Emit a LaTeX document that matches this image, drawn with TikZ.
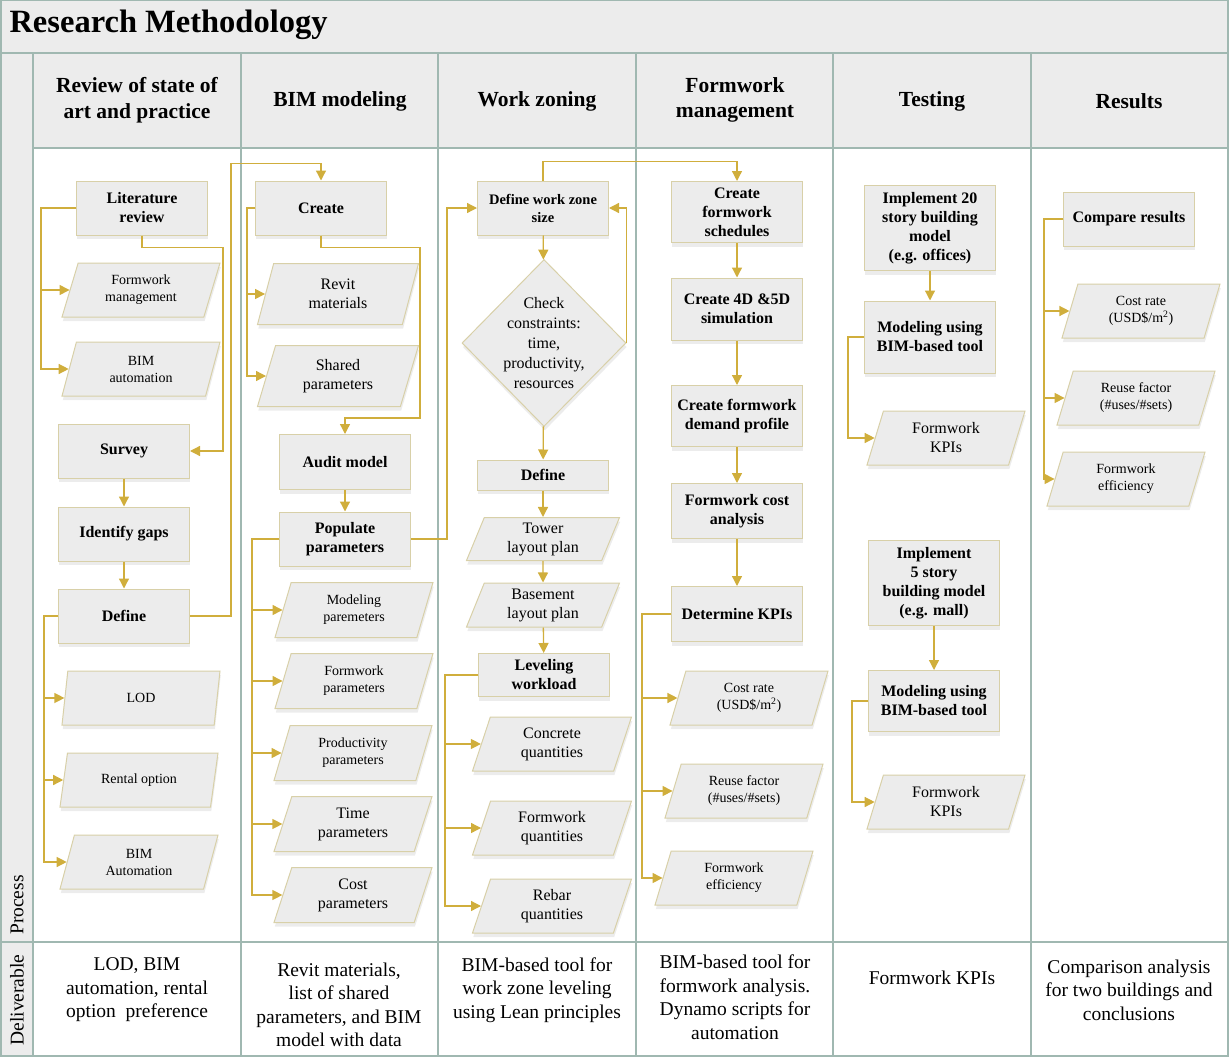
\documentclass[tikz,border=0pt]{standalone}
\usepackage{fontspec}
\setmainfont{Liberation Serif}
\usepackage{tikz}
\usetikzlibrary{shapes.geometric,arrows.meta,shadows}

\definecolor{gridline}{RGB}{160,184,177}
\definecolor{paneltint}{RGB}{236,236,236}
\definecolor{boxfill}{RGB}{236,236,236}
\definecolor{boxedge}{RGB}{216,208,168}
\definecolor{flowgold}{RGB}{208,174,60}

\begin{document}
\begin{tikzpicture}[x=1pt,y=-1pt,
                    grid/.style={draw=gridline,line width=1.5pt},
                    task/.style={rectangle,draw=boxedge,fill=boxfill,line width=1pt,minimum width=131pt,minimum height=54pt,inner sep=2pt,align=center,font=\fontsize{16}{19}\selectfont\bfseries,drop shadow={shadow xshift=0.8pt,shadow yshift=-4pt,opacity=0.15}},
                    data/.style={trapezium,trapezium left angle=63,trapezium right angle=117,trapezium stretches body,draw=boxedge,fill=boxfill,line width=1pt,minimum width=158pt,minimum height=54pt,inner sep=1pt,align=center,font=\fontsize{14}{17}\selectfont,drop shadow={shadow xshift=0.8pt,shadow yshift=-4pt,opacity=0.15}},
                    bigdata/.style={data,font=\fontsize{16}{19}\selectfont},
                    check/.style={diamond,draw=boxedge,fill=boxfill,line width=1pt,minimum width=164pt,minimum height=167pt,inner sep=-4pt,align=center,font=\fontsize{16}{20}\selectfont,drop shadow={shadow xshift=0.8pt,shadow yshift=-4pt,opacity=0.15}},
                    flow/.style={draw=flowgold,line width=1.3pt,-{Triangle[length=10pt,width=10pt]}},
                    head/.style={align=center,font=\fontsize{21.5}{25.5}\selectfont\bfseries},
                    deliv/.style={align=center,font=\fontsize{19.5}{23.5}\selectfont}
                ]
    \useasboundingbox (0,0) rectangle (1229,1057);
    % panels
    \fill[paneltint] (0,0) rectangle (1228,53);
    \fill[paneltint] (0,53) rectangle (33,1056);
    \fill[paneltint] (33,53) rectangle (1228,148);
    \draw[grid] (0.75,0.75) rectangle (1228,1056);
    \draw[grid] (0,53) -- (1228,53);
    \draw[grid] (33,148) -- (1228,148);
    \draw[grid] (0,942) -- (1228,942);
    \foreach \x in {33,241,438,636,833,1031}
        {
        \draw[grid] (\x,53) -- (\x,1056);
        }
    \node[anchor=base west,font=\fontsize{32.5}{36}\selectfont\bfseries] (title) at (6,33) {Research Methodology};
    \node[rotate=90,font=\fontsize{19.5}{23}\selectfont] (process) at (17,905) {Process};
    \node[rotate=90,font=\fontsize{19.5}{23}\selectfont] (deliverable) at (17,1000) {Deliverable};

    % column headers
    \node[head] (hd1) at (137,100) {Review of state of\\art and practice};
    \node[head] (hd2) at (340,101) {BIM modeling};
    \node[head] (hd3) at (537,101) {Work zoning};
    \node[head] (hd4) at (735,100) {Formwork\\management};
    \node[head] (hd5) at (932,101) {Testing};
    \node[head] (hd6) at (1129,101) {Results};

    % review of state of art
    \node[task] (lit) at (142,208) {Literature\\review};
    \node[data] (fmgmt) at (141,290) {Formwork\\management};
    \node[data] (bimauto) at (141,369) {BIM\\automation};
    \node[task] (survey) at (124,451) {Survey};
    \node[task] (gaps) at (124,534) {Identify gaps};
    \node[task] (define) at (124,616) {Define};
    \node[data] (lod) at (141,698) {LOD};
    \node[data] (rental) at (139,780) {Rental option};
    \node[data] (bimautob) at (139,862) {BIM\\Automation};

    % BIM modeling
    \node[task] (create) at (321,208) {Create};
    \node[bigdata,minimum width=161pt,minimum height=61pt] (revit) at (338,294) {Revit\\materials};
    \node[bigdata,minimum width=161pt,minimum height=61pt] (shared) at (338,376) {Shared\\parameters};
    \node[task,minimum height=55pt] (audit) at (345,462) {Audit model};
    \node[task] (populate) at (345,539) {Populate\\parameters};
    \node[data,minimum height=55pt] (modpar) at (354,610) {Modeling\\paremeters};
    \node[data,minimum height=55pt] (fwpar) at (354,681) {Formwork\\parameters};
    \node[data,minimum height=55pt] (prodpar) at (353,753) {Productivity\\parameters};
    \node[bigdata,minimum height=55pt] (timepar) at (353,824) {Time\\parameters};
    \node[bigdata,minimum height=55pt] (costpar) at (353,895) {Cost\\parameters};

    % work zoning
    \node[task,font=\fontsize{14.5}{18}\selectfont\bfseries] (zonesize) at (543,208) {Define work zone\\size};
    \node[check] (constraints) at (544,343) {Check\\constraints:\\time,\\productivity,\\resources};
    \node[task,minimum height=30pt] (zonedef) at (543,475) {Define};
    \node[bigdata,minimum width=153pt,minimum height=43pt] (tower) at (543,539) {Tower\\layout plan};
    \node[bigdata,minimum width=153pt,minimum height=44pt] (basement) at (543,605) {Basement\\layout plan};
    \node[task,minimum height=43pt] (leveling) at (544,675) {Leveling\\workload};
    \node[bigdata,minimum width=159pt] (concq) at (552,744) {Concrete\\quantities};
    \node[bigdata,minimum width=159pt] (formq) at (552,828) {Formwork\\quantities};
    \node[bigdata,minimum width=159pt] (rebarq) at (552,906) {Rebar\\quantities};

    % formwork management
    \node[task,minimum height=61pt] (schedules) at (737,212) {Create\\formwork\\schedules};
    \node[task,minimum height=62pt] (simul) at (737,309) {Create 4D \&5D\\simulation};
    \node[task,minimum height=61pt] (demand) at (737,416) {Create formwork\\demand profile};
    \node[task,minimum height=55pt] (costan) at (737,511) {Formwork cost\\analysis};
    \node[task,minimum height=55pt] (kpis) at (737,614) {Determine KPIs};
    \node[data] (costrate) at (749,698) {Cost rate\\(USD\$/m\textsuperscript{2})};
    \node[data] (reuse) at (744,791) {Reuse factor\\(\#uses/\#sets)};
    \node[data] (effic) at (734,878) {Formwork\\efficiency};

    % testing
    \node[task,minimum height=85pt] (impla) at (930,228) {Implement 20\\story building\\model\\(e.g. offices)};
    \node[task,minimum height=72pt] (modela) at (930,337) {Modeling using\\BIM-based tool};
    \node[bigdata] (kpia) at (946,438) {Formwork\\KPIs};
    \node[task,minimum height=85pt] (implb) at (934,583) {Implement\\5 story\\building model\\(e.g. mall)};
    \node[task,minimum height=61pt] (modelb) at (934,701) {Modeling using\\BIM-based tool};
    \node[bigdata] (kpib) at (946,802) {Formwork\\KPIs};

    % results
    \node[task] (compare) at (1129,219) {Compare results};
    \node[data] (costrateb) at (1141,311) {Cost rate\\(USD\$/m\textsuperscript{2})};
    \node[data] (reuseb) at (1136,398) {Reuse factor\\(\#uses/\#sets)};
    \node[data] (efficb) at (1126,479) {Formwork\\efficiency};

    % connectors
    \draw[flow] (lit.west) -- ++(-35,0) |- (fmgmt.west);
    \draw[flow] (lit.west) -- ++(-35,0) |- (bimauto.west);
    \draw[flow] (lit.south) -- ++(0,12) -- ++(81,0) |- (survey.east);
    \draw[flow] (survey) -- (gaps);
    \draw[flow] (gaps) -- (define);
    \foreach \t in {lod,rental,bimautob}
        \draw[flow] (define.west) -- ++(-14,0) |- (\t.west);
    \draw[flow] (define.east) -- ++(41,0) |- ([yshift=17pt]create.north) -- (create.north);

    \foreach \t in {revit,shared}
        \draw[flow] (create.west) -- ++(-8,0) |- (\t.west);
    \draw[flow] (create.south) -- ++(0,12) -- ++(99,0) |- ([yshift=16pt]audit.north) -- (audit.north);
    \draw[flow] (audit) -- (populate);
    \foreach \t in {modpar,fwpar,prodpar,timepar,costpar}
        \draw[flow] (populate.west) -- ++(-27,0) |- (\t.west);
    \draw[flow] (populate.east) -- ++(36,0) |- (zonesize.west);

    \draw[flow] (zonesize.north) -- ++(0,-19) -| (schedules.north);
    \draw[flow] (zonesize) -- (constraints);
    \draw[flow] (constraints.east) |- (zonesize.east);
    \draw[flow] (constraints) -- (zonedef);
    \draw[flow] (zonedef) -- (tower);
    \draw[flow] (tower) -- (basement);
    \draw[flow] (basement) -- (leveling);
    \foreach \t in {concq,formq,rebarq}
        \draw[flow] (leveling.west) -- ++(-33,0) |- (\t.west);

    \draw[flow] (schedules) -- (simul);
    \draw[flow] (simul) -- (demand);
    \draw[flow] (demand) -- (costan);
    \draw[flow] (costan) -- (kpis);
    \foreach \t in {costrate,reuse,effic}
        \draw[flow] (kpis.west) -- ++(-29,0) |- (\t.west);

    \draw[flow] (impla) -- (modela);
    \draw[flow] (modela.west) -- ++(-16,0) |- (kpia.west);
    \draw[flow] (implb) -- (modelb);
    \draw[flow] (modelb.west) -- ++(-16,0) |- (kpib.west);

    \foreach \t in {costrateb,reuseb,efficb}
        \draw[flow] (compare.west) -- ++(-19,0) |- (\t.west);

    % deliverables
    \node[deliv] (dl1) at (137,990) {LOD, BIM\\automation, rental\\option\ \ preference};
    \node[deliv] (dl2) at (339,1005) {Revit materials,\\list of shared\\parameters, and BIM\\model with data};
    \node[deliv] (dl3) at (537,990) {BIM-based tool for\\work zone leveling\\using Lean principles};
    \node[deliv] (dl4) at (735,997) {BIM-based tool for\\formwork analysis.\\Dynamo scripts for\\automation};
    \node[deliv] (dl5) at (932,978) {Formwork KPIs};
    \node[deliv] (dl6) at (1129,990) {Comparison analysis\\for two buildings and\\conclusions};
\end{tikzpicture}
\end{document}
